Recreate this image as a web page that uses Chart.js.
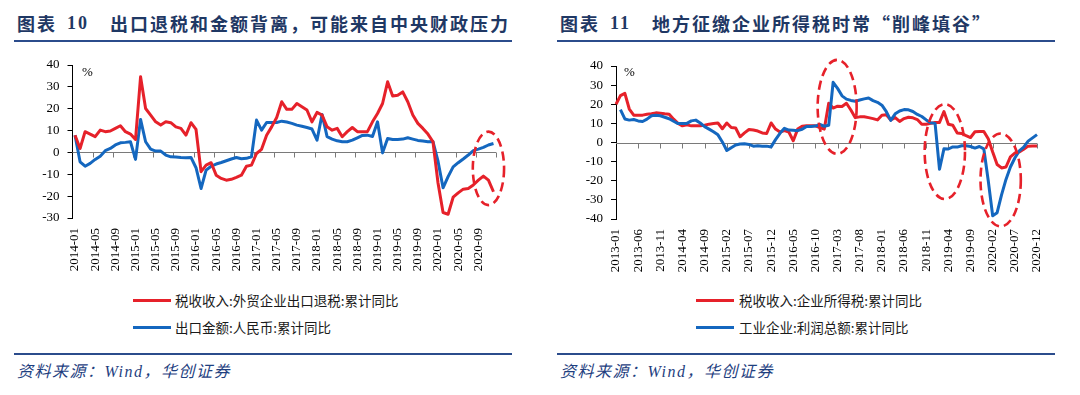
<!DOCTYPE html>
<html>
<head>
<meta charset="utf-8">
<script src="https://cdn.jsdelivr.net/npm/chart.js@4.4.1/dist/chart.umd.min.js"></script>
<style>
  html,body{margin:0;padding:0;background:#fff;}
  body{width:1080px;height:395px;position:relative;overflow:hidden;font-family:"Liberation Serif","Noto Sans CJK SC",serif;}
  .t{position:absolute;top:13px;line-height:20px;font-size:18px;font-weight:bold;color:#1F3864;letter-spacing:2px;white-space:nowrap;font-family:"Liberation Serif","Noto Sans CJK SC",serif;}
  .tc{font-family:"Noto Sans CJK SC",sans-serif;}
  .rule{position:absolute;height:2px;background:#2B4C8C;}
  .src{position:absolute;top:362px;line-height:20px;font-size:16px;font-style:italic;color:#1F3F7F;letter-spacing:1.5px;white-space:nowrap;}
  .pct{position:absolute;top:65px;font-size:13px;line-height:14px;color:#000;}
  .lg{position:absolute;height:3px;width:38px;}
  .lt{position:absolute;font-size:13.5px;line-height:18px;color:#1a1a1a;white-space:nowrap;font-family:"Noto Sans CJK SC",sans-serif;}
  canvas{position:absolute;top:0;}
</style>
</head>
<body>
<div class="t tc" style="left:17px">图表</div>
<div class="t" style="left:67px">10</div>
<div class="t tc" style="left:110px">出口退税和金额背离，可能来自中央财政压力</div>
<div class="t tc" style="left:560px">图表</div>
<div class="t" style="left:610px">11</div>
<div class="t tc" style="left:652px">地方征缴企业所得税时常“削峰填谷”</div>
<div class="rule" style="left:14px;width:498px;top:40px"></div>
<div class="rule" style="left:557px;width:498px;top:40px"></div>

<canvas id="c1" width="540" height="290" style="left:0;width:540px;height:290px"></canvas>
<canvas id="c2" width="540" height="290" style="left:540px;width:540px;height:290px"></canvas>

<div class="pct" style="left:82px">%</div>
<div class="pct" style="left:624px">%</div>

<div class="lg" style="left:133px;top:299px;background:#E6212A"></div>
<div class="lt" style="left:175px;top:291px">税收收入:外贸企业出口退税:累计同比</div>
<div class="lg" style="left:133px;top:326px;background:#1467BF"></div>
<div class="lt" style="left:175px;top:318px">出口金额:人民币:累计同比</div>

<div class="lg" style="left:696px;top:299px;background:#E6212A"></div>
<div class="lt" style="left:739px;top:291px">税收收入:企业所得税:累计同比</div>
<div class="lg" style="left:696px;top:326px;background:#1467BF"></div>
<div class="lt" style="left:739px;top:318px">工业企业:利润总额:累计同比</div>

<div class="rule" style="left:14px;width:498px;top:353px"></div>
<div class="rule" style="left:557px;width:498px;top:353px"></div>
<div class="src" style="left:17px">资料来源：Wind，华创证券</div>
<div class="src" style="left:560px">资料来源：Wind，华创证券</div>

<script>
// ---------- categories ----------
function monthRange(y0, y1) {
  const out = [];
  for (let y = y0; y <= y1; y++) for (let m = 1; m <= 12; m++) out.push(y + '-' + String(m).padStart(2, '0'));
  return out;
}
const leftCategories = monthRange(2014, 2020);   // 2014-01 .. 2020-12
const rightCategories = monthRange(2013, 2020);  // 2013-01 .. 2020-12

// ---------- left chart series (%, cumulative YoY) ----------
const exportRebate = [
  7.9, 1.8, 9.5, 8.4, 7.2, 10.2, 9.5, 9.8, 11, 12.2, 9.5, 8.4,
  5.9, 34.6, 20.1, 17.1, 14, 12.5, 14, 13.6, 11.7, 11, 7.9, 13.6,
  10.5, -8.8, -5.8, -4.7, -10.4, -11.9, -12.7, -12.3, -11.4, -10.4, -6.3, -5.8,
  -0.5, 1.4, 7.9, 11.7, 16, 23.2, 19.7, 19.7, 22.4, 20.9, 19.4, 14,
  18.3, 17.1, 11.7, 10.2, 11, 7.2, 9.5, 11.4, 9.5, 9.5, 9.5, 14,
  17.8, 22.4, 32.3, 25.8, 26.2, 27.7, 23.2, 17.1, 13.3, 11, 8.4, 4.9,
  -14, -27.5, -28.3, -20.5, -18.5, -16.8, -16.5, -14.9, -12.7, -10.8, -12.7, -18
];
const exportValue = [
  7.9, -4.3, -6.3, -5, -3.2, -1.7, 0.8, 1.8, 3.4, 4.4, 4.6, 4.9,
  -3.2, 15.1, 4.9, 1.5, 0.6, 0.6, -1.2, -2, -2.1, -2.3, -2.4, -2.3,
  -7, -16.5, -8.1, -6.3, -5.3, -4.6, -3.8, -3, -2.3, -2.9, -2.7, -2,
  14.8, 10.2, 13.7, 13.7, 13.7, 14.3, 13.9, 13.3, 12.5, 12, 11.4, 10.7,
  5.6, 17.4, 7.2, 6.1, 5.3, 4.9, 4.9, 5.6, 6.7, 7.8, 7.9, 7.3,
  14, -0.2, 6.4, 5.9, 5.9, 6.1, 6.7, 6.1, 5.5, 5.2, 4.9, 5,
  -4, -16.2, -11.1, -6.6, -4.7, -3, -1.2, 0.8, 1.5, 2.3, 3.4, 4.1
];

// ---------- right chart series (%, cumulative YoY) ----------
const corpIncomeTax = [
  20, 24.5, 25.7, 17.5, 14.3, 14.3, 14.3, 14.8, 15.1, 15.5, 15.3, 15,
  14.8, 12.2, 10, 8.7, 9.2, 8.7, 8.7, 8.7, 9, 9.6, 9.9, 10.2,
  7.2, 10.2, 7.8, 7.6, 3, 5, 6.8, 6.5, 6, 5, 4.7, 10.2,
  7, 5.5, 6.2, 5.5, 0.9, 7, 8.5, 8.7, 8.7, 8.7, 7.8, 7,
  20.5, 18, 19, 18.8, 20.5, 17, 13, 13.4, 13.5, 13, 12.5, 11.8,
  14.3, 14.5, 11.8, 13, 11, 12.5, 13.2, 12.9, 12, 9.5, 9.5, 10,
  10.5, 10.5, 16.2, 9.5, 9, 5, 4.7, 3.6, 2.6, 5.6, 5.8, 5.8,
  2, -5, -11.5, -13.3, -12.8, -7.5, -5.5, -4.9, -3.5, -1.9, -1.8, -1.8
];
const industrialProfit = [
  null, 17.2, 12.3, 11.7, 12, 11.3, 11, 12.2, 14, 14.2, 14, 13.2,
  12.4, 11.1, 9.9, 10, 10, 11.3, 11.7, 10.2, 8.3, 7, 5.6, 4,
  0.3, -4.2, -2.7, -1.3, -0.8, -0.7, -1, -1.9, -1.7, -1.9, -1.9, -2.3,
  1.5, 4.8, 7.4, 6.5, 6.4, 6.2, 6.9, 8.4, 8.4, 8.6, 9.4, 8.5,
  9, 31.5, 28.3, 24.4, 22.7, 22, 21.6, 22.2, 22.8, 23.3, 21.9, 21,
  19.5, 16.1, 11.6, 15, 16.5, 17.2, 17.1, 16.2, 14.7, 13.6, 11.8, 10.3,
  10, -14, -3.3, -3.4, -2.3, -2.4, -1.7, -1.7, -2.1, -2.9, -2.1, -3.3,
  -20, -38.3, -36.7, -27.4, -19.3, -12.8, -8.1, -4.4, -2.4, 0.7, 2.4, 4.1
];

// ---------- styling ----------
const RED = '#E6212A', BLUE = '#1467BF';
const tickFont = { family: "'Liberation Serif', 'Times New Roman', serif", size: 13 };

function zeroAxis(start, step, end) {
  return {
    id: 'zeroAxis',
    beforeDatasetsDraw(chart) {
      const { ctx, chartArea: a, scales: { x, y } } = chart;
      const y0 = Math.round(y.getPixelForValue(0)) + 0.5;
      ctx.save();
      ctx.strokeStyle = '#7a7a7a';
      ctx.lineWidth = 1;
      ctx.beginPath();
      ctx.moveTo(a.left, y0); ctx.lineTo(a.right, y0);
      for (let i = start; i <= end + 1e-9; i += step) {
        const px = Math.round(x.getPixelForValue(i)) + 0.5;
        ctx.moveTo(px, y0); ctx.lineTo(px, y0 + 5);
      }
      ctx.stroke();
      ctx.restore();
    }
  };
}
function dashedRings(list) {
  return {
    id: 'dashedRings',
    afterDatasetsDraw(chart) {
      const { ctx, scales: { x, y } } = chart;
      ctx.save();
      ctx.strokeStyle = RED;
      ctx.lineWidth = 2.6;
      ctx.setLineDash([9, 5]);
      list.forEach(e => {
        const cx = x.getPixelForValue(e.x), cy = y.getPixelForValue(e.y);
        const rx = Math.abs(x.getPixelForValue(e.x + e.dx) - cx);
        const ry = Math.abs(y.getPixelForValue(e.y + e.dy) - cy);
        ctx.beginPath();
        ctx.ellipse(cx, cy, rx, ry, e.rot || 0, 0, Math.PI * 2);
        ctx.stroke();
      });
      ctx.restore();
    }
  };
}

function makeChart(id, cats, s1, s2, cfg) {
  return new Chart(document.getElementById(id), {
    type: 'line',
    data: {
      labels: cats,
      datasets: [
        { label: cfg.names[0], data: s1, borderColor: RED, backgroundColor: RED, borderWidth: 3, pointRadius: 0, tension: 0, order: cfg.redOrder, borderJoinStyle: 'round' },
        { label: cfg.names[1], data: s2, borderColor: BLUE, backgroundColor: BLUE, borderWidth: 3, pointRadius: 0, tension: 0, order: 1 - cfg.redOrder, borderJoinStyle: 'round' }
      ]
    },
    options: {
      responsive: false,
      animation: false,
      devicePixelRatio: 1,
      layout: { padding: { top: cfg.top, right: cfg.right, bottom: 0, left: 0 } },
      plugins: { legend: { display: false }, tooltip: { enabled: false } },
      scales: {
        x: {
          type: 'category',
          offset: cfg.offset,
          grid: { display: false, drawTicks: false },
          border: { display: false },
          ticks: {
            autoSkip: false, maxRotation: 90, minRotation: 90, padding: 10,
            font: tickFont, color: '#000',
            callback: (v, i) => (i % cfg.every === 0 ? cats[i] : '')
          },
          afterFit: s => { s.height = cfg.xh; }
        },
        y: {
          min: cfg.ymin, max: 40,
          ticks: { stepSize: 10, padding: 8, font: tickFont, color: '#000' },
          grid: { drawOnChartArea: false, drawTicks: true, tickLength: 5, color: '#000' },
          border: { display: true, color: '#000', width: 1 },
          afterFit: s => { s.width = cfg.yw; }
        }
      }
    },
    plugins: [zeroAxis(cfg.tickStart, cfg.every, cfg.tickEnd), dashedRings(cfg.rings)]
  });
}

makeChart('c1', leftCategories, exportRebate, exportValue, {
  names: ['税收收入:外贸企业出口退税:累计同比', '出口金额:人民币:累计同比'],
  redOrder: 0, top: 65, right: 44, xh: 72, yw: 72.5, ymin: -30, offset: true, every: 4,
  tickStart: 3.5, tickEnd: 83.5,
  rings: [{ x: 82, y: -7.3, dx: 3.1, dy: 16.8 }]
});
makeChart('c2', rightCategories, corpIncomeTax, industrialProfit, {
  names: ['税收收入:企业所得税:累计同比', '工业企业:利润总额:累计同比'],
  redOrder: 1, top: 66, right: 43, xh: 71, yw: 76, ymin: -40, offset: false, every: 5,
  tickStart: 5, tickEnd: 95,
  rings: [
    { x: 49.9, y: 18.6, dx: 4.4, dy: 24.6 },
    { x: 74.2, y: -4.8, dx: 4.55, dy: 24.8 },
    { x: 86.8, y: -19.6, dx: 4.55, dy: 24.3 }
  ]
});
</script>
</body>
</html>
